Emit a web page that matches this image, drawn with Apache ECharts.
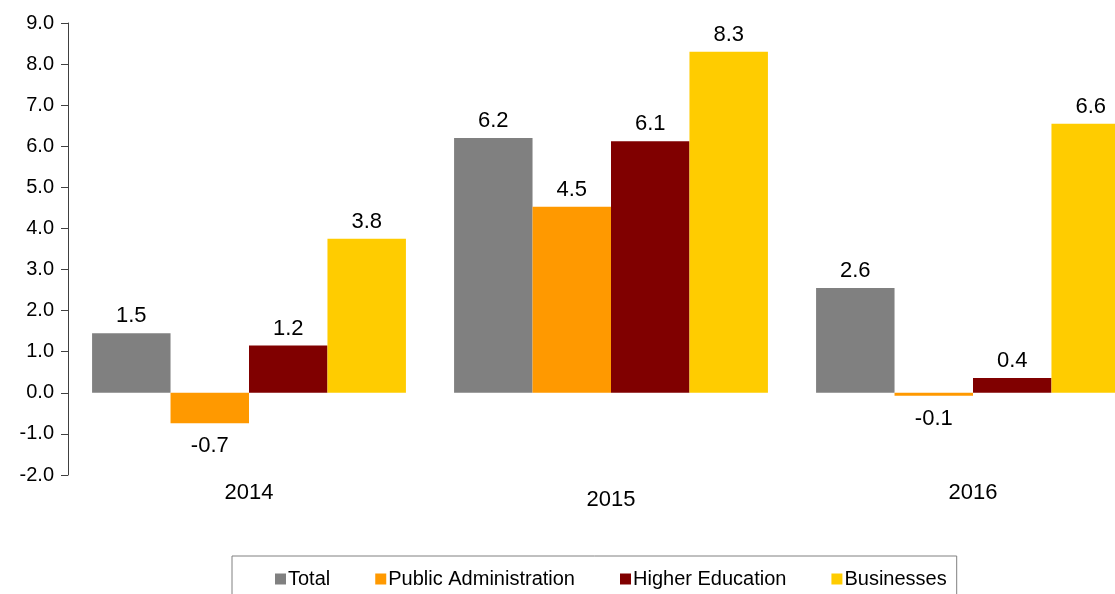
<!DOCTYPE html>
<html>
<head>
<meta charset="utf-8">
<script src="https://cdn.jsdelivr.net/npm/echarts@6/dist/echarts.min.js"></script>
<style>
html,body{margin:0;padding:0;background:#fff;overflow:hidden;width:1115px;height:594px;}
#chart{width:1154px;height:594px;}
</style>
</head>
<body>
<div id="chart"></div>
<script>
const categories = ['2014', '2015', '2016'];
const seriesNames = ['Total', 'Public Administration', 'Higher Education', 'Businesses'];
const totalValues = [1.45, 6.2, 2.55];
const publicAdminValues = [-0.74, 4.53, -0.07];
const higherEduValues = [1.15, 6.12, 0.36];
const businessValues = [3.75, 8.3, 6.55];
const yTicks = [-2, -1, 0, 1, 2, 3, 4, 5, 6, 7, 8, 9];

const colors = ['#808080', '#FF9900', '#800000', '#FFCC00'];
const font = '"Liberation Sans", Arial, sans-serif';
const allValues = [totalValues, publicAdminValues, higherEduValues, businessValues];

function fmt(v) { return (Math.round(v * 10 + (v >= 0 ? 1e-9 : -1e-9)) / 10).toFixed(1); }

const chart = echarts.init(document.getElementById('chart'));
chart.setOption({
  animation: false,
  backgroundColor: '#fff',
  grid: { left: 68, right: 0, top: 23, bottom: 119, containLabel: false },
  legend: {
    data: seriesNames,
    left: 232, top: 556,
    padding: [13, 10, 13, 43],
    borderColor: '#808080', borderWidth: 1,
    itemWidth: 11, itemHeight: 11, itemGap: 45,
    icon: 'rect',
    textStyle: { fontFamily: font, fontSize: 20, color: '#000', padding: [0, 0, 0, -3] }
  },
  xAxis: {
    type: 'category',
    data: categories,
    axisLine: { show: false },
    axisTick: { show: false },
    axisLabel: {
      fontFamily: font, fontSize: 22, color: '#000', margin: 7,
      formatter: (v, i) => i === 1 ? '{b|' + v + '}' : v,
      rich: { b: { fontFamily: font, fontSize: 22, color: '#000', padding: [7, 0, 0, 0] } }
    }
  },
  yAxis: {
    type: 'value',
    min: yTicks[0], max: yTicks[yTicks.length - 1], interval: 1,
    axisLine: { show: true, lineStyle: { color: '#404040', width: 1 } },
    axisTick: { show: true, inside: false, length: 7, lineStyle: { color: '#404040' } },
    splitLine: { show: false },
    axisLabel: { fontFamily: font, fontSize: 20, color: '#000', margin: 14, formatter: v => v.toFixed(1) }
  },
  series: seriesNames.map((name, si) => ({
    name: name,
    type: 'bar',
    barGap: '0%',
    barCategoryGap: '13.3%',
    itemStyle: { color: colors[si] },
    label: {
      show: true, distance: 6,
      fontFamily: font, fontSize: 22, color: '#000',
      formatter: p => fmt(p.value)
    },
    data: allValues[si].map(v => ({ value: v, label: { position: v < 0 ? 'bottom' : 'top', distance: v < 0 ? 12 : 6 } }))
  }))
});
</script>
</body>
</html>
